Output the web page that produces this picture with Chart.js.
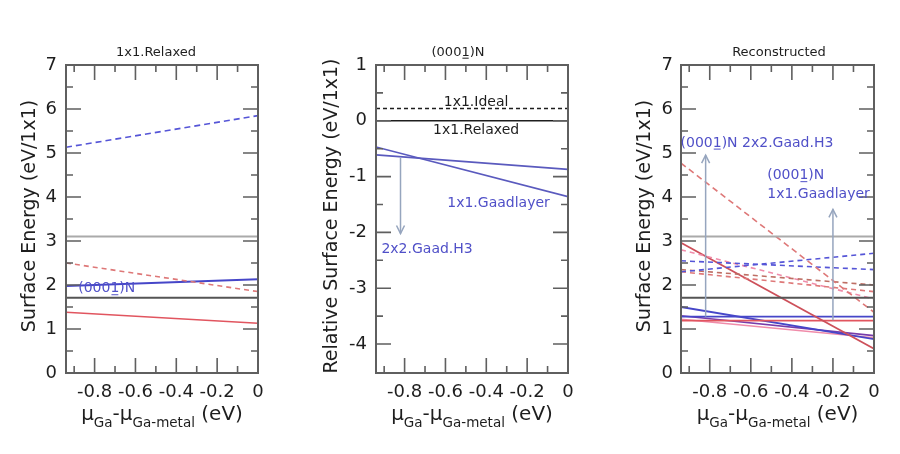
<!DOCTYPE html>
<html><head><meta charset="utf-8">
<script src="https://cdn.jsdelivr.net/npm/chart.js@4/dist/chart.umd.min.js"></script>
<style>
html,body{margin:0;padding:0;background:#fff;}
#wrap{position:relative;width:900px;height:454px;overflow:hidden;background:#fff;}
canvas{position:absolute;top:0;}
</style></head><body>
<div id="wrap">
<canvas id="c1" width="300" height="454" style="left:0px"></canvas>
<canvas id="c2" width="300" height="454" style="left:300px"></canvas>
<canvas id="c3" width="300" height="454" style="left:600px"></canvas>
</div>
<script>
// ---------- data ----------
const muRange = [-0.94, 0];
const xTickValues = [-0.8, -0.6, -0.4, -0.2, 0];
const xMinorValues = [-0.9, -0.7, -0.5, -0.3, -0.1];
const absTickValues = [0, 1, 2, 3, 4, 5, 6, 7];
const absMinorValues = [0.5, 1.5, 2.5, 3.5, 4.5, 5.5, 6.5];
const relTickValues = [1, 0, -1, -2, -3, -4];
const relMinorValues = [0.5, -0.5, -1.5, -2.5, -3.5];

// Panel 1: 1x1.Relaxed  [value at mu=-0.94, value at mu=0]
const relaxedBlueDashed = [5.13, 5.85];
const relaxedGrayRef    = [3.10, 3.10];
const relaxedRedDashed  = [2.50, 1.85];
const relaxedBlueSolid  = [1.98, 2.13];
const relaxedBlackRef   = [1.71, 1.71];
const relaxedRedSolid   = [1.38, 1.13];

// Panel 2: (0001)N relative energies
const nIdeal     = [0.22, 0.22];
const nRelaxed   = [0.00, 0.00];
const nGaadlayer = [-0.47, -1.36];
const nGaadH3    = [-0.61, -0.87];

// Panel 3: Reconstructed
const recGrayRef         = [3.10, 3.10];
const recBlackRef        = [1.71, 1.71];
const recRedDashedSteep  = [4.77, 1.38];
const recBlueDashedA     = [2.55, 2.35];
const recBlueDashedB     = [2.30, 2.72];
const recRedDashedA      = [2.35, 2.00];
const recRedDashedB      = [2.30, 1.85];
const recPinkDashed      = [2.80, 1.68];
const recRedSolidSteep   = [2.96, 0.55];
const recBlueFlat        = [1.28, 1.28];
const recRedFlat         = [1.19, 1.19];
const recBlueSolidFall   = [1.50, 0.77];
const recPurpleSolidFall = [1.30, 0.85];
const recPinkSolidFall   = [1.22, 0.80];

// annotations
const p1Labels = [{text:'(0001)N', x:-0.88, y:1.95, align:'left', c:'blue'}];
const p2Labels = [
  {text:'1x1.Ideal', x:-0.45, y:0.36, align:'center', c:'dark'},
  {text:'1x1.Relaxed', x:-0.45, y:-0.15, align:'center', c:'dark'},
  {text:'1x1.Gaadlayer', x:-0.34, y:-1.45, align:'center', c:'blue'},
  {text:'2x2.Gaad.H3', x:-0.69, y:-2.28, align:'center', c:'blue'}
];
const p3Labels = [
  {text:'(0001)N 2x2.Gaad.H3', x:-0.57, y:5.26, align:'center', c:'blue'},
  {text:'(0001)N', x:-0.52, y:4.52, align:'left', c:'blue'},
  {text:'1x1.Gaadlayer', x:-0.52, y:4.09, align:'left', c:'blue'}
];
const p2Arrows = [{x:-0.82, from:-0.66, to:-2.02}];
const p3Arrows = [{x:-0.82, from:1.28, to:4.95}, {x:-0.2, from:1.20, to:3.72}];

// ---------- styles ----------
const C = {
  blue:'rgb(70,70,200)', blueD:'rgb(85,85,215)', red:'rgb(225,85,95)', redD:'rgb(222,120,120)',
  pink:'rgb(240,140,170)', purple:'rgb(120,60,170)', grayL:'rgb(170,170,170)', grayD:'rgb(85,85,85)',
  dark:'rgb(30,30,30)', label:'rgb(80,80,200)', arrow:'rgb(150,165,190)', frame:'rgb(95,95,95)'
};
const FONT = '"DejaVu Sans", "Liberation Sans", sans-serif';

function seg(vals, color, dash, width) {
  return {
    data: [{x: muRange[0], y: vals[0]}, {x: muRange[1], y: vals[1]}],
    borderColor: color, borderDash: dash || [], borderWidth: width || 1.6,
    pointRadius: 0, fill: false, tension: 0
  };
}

const panels = [
  {id:'c1', left:66, right:42, yMin:0, yMax:7, yTicks:absTickValues, yMinor:absMinorValues, yPad:9,
   title:'1x1.Relaxed', titleX:156, yTitle:'Surface Energy (eV/1x1)', yTitleX:35,
   labels:p1Labels, arrows:[],
   datasets:[
     seg(relaxedBlueDashed, C.blueD, [6,4]),
     seg(relaxedGrayRef, C.grayL, [], 2),
     seg(relaxedRedDashed, C.redD, [5,4]),
     seg(relaxedBlueSolid, C.blue, [], 2),
     seg(relaxedBlackRef, C.grayD, [], 2),
     seg(relaxedRedSolid, C.red, [], 1.6)
   ]},
  {id:'c2', left:76, right:32, yMin:-4.52, yMax:1, yTicks:relTickValues, yMinor:relMinorValues, yPad:9,
   title:'(0001)N', titleX:158, yTitle:'Relative Surface Energy (eV/1x1)', yTitleX:37,
   labels:p2Labels, arrows:p2Arrows,
   datasets:[
     seg(nIdeal, C.dark, [4,3], 1.5),
     seg(nRelaxed, C.dark, [], 1.5),
     seg(nGaadlayer, 'rgb(90,90,190)', [], 1.6),
     seg(nGaadH3, 'rgb(90,90,190)', [], 1.6)
   ]},
  {id:'c3', left:81, right:26, yMin:0, yMax:7, yTicks:absTickValues, yMinor:absMinorValues, yPad:8,
   title:'Reconstructed', titleX:179, yTitle:'Surface Energy (eV/1x1)', yTitleX:50,
   labels:p3Labels, arrows:p3Arrows,
   datasets:[
     seg(recGrayRef, C.grayL, [], 2),
     seg(recBlackRef, C.grayD, [], 2),
     seg(recRedDashedSteep, C.redD, [6,4]),
     seg(recBlueDashedA, C.blueD, [5,4]),
     seg(recBlueDashedB, C.blueD, [5,4]),
     seg(recRedDashedA, 'rgb(190,110,100)', [5,4]),
     seg(recRedDashedB, C.redD, [5,4]),
     seg(recPinkDashed, C.pink, [5,4]),
     seg(recRedSolidSteep, 'rgb(205,80,90)', [], 1.8),
     seg(recBlueFlat, C.blue, [], 1.8),
     seg(recRedFlat, C.red, [], 1.8),
     seg(recBlueSolidFall, C.blue, [], 1.8),
     seg(recPurpleSolidFall, C.purple, [], 1.6),
     seg(recPinkSolidFall, C.pink, [], 1.6)
   ]}
];

// ---------- drawing helpers ----------
function drawLabelText(ctx, text, x, yMid, size, align, color) {
  ctx.save();
  ctx.font = size + 'px ' + FONT;
  ctx.fillStyle = color;
  ctx.textAlign = 'left';
  ctx.textBaseline = 'alphabetic';
  const w = ctx.measureText(text).width;
  let x0 = align === 'center' ? x - w/2 : (align === 'right' ? x - w : x);
  const base = yMid + size * 0.36;
  ctx.fillText(text, x0, base);
  const k = text.indexOf('(0001)');
  if (k >= 0) {
    const pre = ctx.measureText(text.slice(0, k + 4)).width;
    const cw = ctx.measureText('1').width;
    ctx.strokeStyle = color; ctx.lineWidth = 1;
    ctx.beginPath();
    ctx.moveTo(x0 + pre + 1, base + 2.5); ctx.lineTo(x0 + pre + cw - 1, base + 2.5);
    ctx.stroke();
  }
  ctx.restore();
}

function drawMuTitle(ctx, cx, base) {
  const parts = [['\u03bc', 20, 0], ['Ga', 13.5, 7], ['-', 20, 0], ['\u03bc', 20, 0], ['Ga-metal', 13.5, 7], [' (eV)', 20, 0]];
  ctx.save();
  ctx.fillStyle = C.dark; ctx.textBaseline = 'alphabetic'; ctx.textAlign = 'left';
  let total = 0;
  parts.forEach(p => { ctx.font = p[1] + 'px ' + FONT; total += ctx.measureText(p[0]).width; });
  let x = cx - total/2;
  parts.forEach(p => { ctx.font = p[1] + 'px ' + FONT; ctx.fillText(p[0], x, base + p[2]); x += ctx.measureText(p[0]).width; });
  ctx.restore();
}

const decor = {
  id: 'decor',
  afterDraw(chart, args, opts) {
    const P = opts.panel;
    const ctx = chart.ctx, a = chart.chartArea, xs = chart.scales.x, ys = chart.scales.y;
    ctx.save();
    // arrows
    P.arrows.forEach(ar => {
      const px = xs.getPixelForValue(ar.x), y1 = ys.getPixelForValue(ar.from), y2 = ys.getPixelForValue(ar.to);
      const dir = y2 < y1 ? 1 : -1;
      ctx.strokeStyle = C.arrow; ctx.lineWidth = 1.5;
      ctx.beginPath(); ctx.moveTo(px, y1); ctx.lineTo(px, y2); ctx.stroke();
      ctx.beginPath(); ctx.moveTo(px - 4, y2 + dir*8); ctx.lineTo(px, y2); ctx.lineTo(px + 4, y2 + dir*8); ctx.stroke();
    });
    // frame
    ctx.strokeStyle = C.frame; ctx.lineWidth = 2;
    ctx.strokeRect(a.left, a.top, a.right - a.left, a.bottom - a.top);
    // ticks
    ctx.lineWidth = 1.6;
    const tk = (vals, len, horiz) => vals.forEach(v => {
      if (horiz) {
        const p = xs.getPixelForValue(v);
        if (p <= a.left + 1 || p >= a.right - 1) return;
        ctx.beginPath(); ctx.moveTo(p, a.bottom); ctx.lineTo(p, a.bottom - len);
        ctx.moveTo(p, a.top); ctx.lineTo(p, a.top + len); ctx.stroke();
      } else {
        const p = ys.getPixelForValue(v);
        if (p <= a.top + 1 || p >= a.bottom - 1) return;
        ctx.beginPath(); ctx.moveTo(a.left, p); ctx.lineTo(a.left + len, p);
        ctx.moveTo(a.right, p); ctx.lineTo(a.right - len, p); ctx.stroke();
      }
    });
    tk(xTickValues, 15, true); tk(xMinorValues, 7, true);
    tk(P.yTicks, 15, false); tk(P.yMinor, 7, false);
    // labels
    P.labels.forEach(l => drawLabelText(ctx, l.text, xs.getPixelForValue(l.x), ys.getPixelForValue(l.y), 14, l.align, l.c === 'blue' ? C.label : C.dark));
    // panel title
    drawLabelText(ctx, P.title, P.titleX, 51, 13, 'center', C.dark);
    // y title
    ctx.save();
    ctx.translate(P.yTitleX, 216); ctx.rotate(-Math.PI/2);
    ctx.font = '19px ' + FONT; ctx.fillStyle = C.dark; ctx.textAlign = 'center'; ctx.textBaseline = 'alphabetic';
    ctx.fillText(P.yTitle, 0, 0);
    ctx.restore();
    // x title
    drawMuTitle(ctx, (a.left + a.right)/2, 420);
    ctx.restore();
  }
};

panels.forEach(P => {
  new Chart(document.getElementById(P.id), {
    type: 'line',
    data: { datasets: P.datasets },
    plugins: [decor],
    options: {
      responsive: false, animation: false, devicePixelRatio: 1,
      layout: { padding: { left: 0, right: P.right, top: 65, bottom: 0 } },
      plugins: { legend: {display:false}, tooltip: {enabled:false}, decor: { panel: P } },
      scales: {
        x: {
          type: 'linear', min: muRange[0], max: muRange[1],
          afterBuildTicks: s => { s.ticks = xTickValues.map(v => ({value: v})); },
          afterFit: s => { s.height = 81; },
          grid: { display: false, drawTicks: false }, border: { display: false },
          ticks: { padding: 9, color: C.dark, font: { family: FONT, size: 18 }, maxRotation: 0, autoSkip: false,
                   callback: v => (Math.abs(v) < 1e-9 ? '0' : v.toFixed(1)) }
        },
        y: {
          type: 'linear', min: P.yMin, max: P.yMax,
          afterBuildTicks: s => { s.ticks = P.yTicks.map(v => ({value: v})); },
          afterFit: s => { s.width = P.left; },
          grid: { display: false, drawTicks: false }, border: { display: false },
          ticks: { padding: P.yPad, color: C.dark, font: { family: FONT, size: 18 }, autoSkip: false,
                   callback: v => String(Math.round(v)) }
        }
      }
    }
  });
});
</script>
</body></html>
